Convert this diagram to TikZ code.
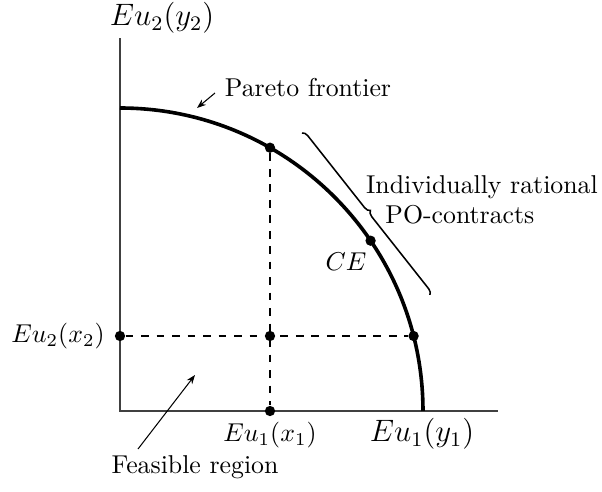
\documentclass[tikz,border=0pt]{standalone}
\usetikzlibrary{decorations.pathreplacing,arrows.meta}
\begin{document}
\begin{tikzpicture}[x=0.3876pt,y=-0.3876pt,
  axis/.style={line width=0.5pt,draw=black!75},
  frontier/.style={line width=1.4pt},
  guide/.style={dashed,line width=0.6pt},
  dot/.style={circle,fill=black,inner sep=0pt,minimum size=4pt},
  pointer/.style={-{Stealth[length=3.5pt,width=2.6pt]},line width=0.4pt},
  lbl/.style={inner sep=1pt}]
\useasboundingbox (0,0) rectangle (602,492);
% axes
\coordinate (O) at (120,411);
\coordinate (ytop) at (120,38);
\coordinate (xend) at (498,411);
\draw[axis] (ytop) -- (O) -- (xend);
% frontier
\coordinate (fstart) at (120,108);
\draw[frontier] (fstart) arc[start angle=90,end angle=0,radius=117.44pt];
% points
\node[dot] (A) at (270,147.7) {};
\node[dot] (B) at (413.6,336) {};
\node[dot] (CEp) at (370.6,240.7) {};
\node[dot] (C) at (270,336) {};
\node[dot] (X1) at (270,411) {};
\node[dot] (X2) at (120,336) {};
\draw[guide] (A) -- (X1);
\draw[guide] (X2) -- (B);
% brace
\coordinate (b1) at (302,133);
\coordinate (b2) at (430,295);
\draw[decorate,decoration={brace,amplitude=2.2pt},line width=0.6pt] (b1) -- (b2);
\node[lbl,align=left,anchor=north west] (ir) at (363,172) {Individually rational\\\hspace*{7.5pt}PO-contracts};
% labels
\node[lbl] (ce) at (346,262) {$CE$};
\node[lbl] (pf) at (308,88) {Pareto frontier};
\coordinate (pft) at (215,93);
\coordinate (pfh) at (197,108);
\draw[pointer] (pft) -- (pfh);
\node[lbl] (fr) at (195,467) {Feasible region};
\coordinate (frt) at (138,449);
\coordinate (frh) at (195,375);
\draw[pointer] (frt) -- (frh);
\node[lbl] (ly) at (162,18) {\large $Eu_2(y_2)$};
\node[lbl] (lx2) at (58,336) {$Eu_2(x_2)$};
\node[lbl] (lx1) at (270,435) {$Eu_1(x_1)$};
\node[lbl] (ly1) at (422,434) {\large $Eu_1(y_1)$};
\end{tikzpicture}
\end{document}
